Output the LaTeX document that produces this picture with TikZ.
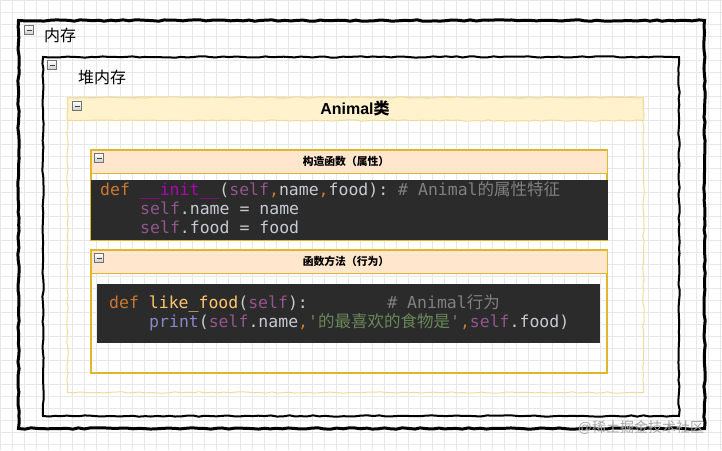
\documentclass[tikz,border=0pt]{standalone}
\usepackage{fontspec}
\setmainfont{Liberation Sans}
\setmonofont{DejaVu Sans Mono}
\newfontfamily\cjk{Noto Sans CJK SC}
\usetikzlibrary{decorations.pathmorphing}
\definecolor{gridc}{HTML}{E8E8E8}
\definecolor{hdrpale}{HTML}{FFF2CC}
\definecolor{hdrorange}{HTML}{FFE6CC}
\definecolor{boxgold}{HTML}{E0B62E}
\definecolor{palegold}{HTML}{F0DA9C}
\definecolor{codebg}{HTML}{2B2B2B}
\definecolor{codefg}{HTML}{C5CAD3}
\definecolor{kw}{HTML}{CC7832}
\definecolor{magic}{HTML}{B200B2}
\definecolor{slf}{HTML}{94558D}
\definecolor{cmt}{HTML}{808080}
\definecolor{str}{HTML}{6A8759}
\definecolor{fn}{HTML}{FFC66D}
\definecolor{bltin}{HTML}{8888C6}
\tikzset{box/.style={rectangle,anchor=north west,inner sep=0pt}}
\tikzset{sketch/.style={decorate,decoration={random steps,segment length=6pt,amplitude=0.7pt}}}
\tikzset{minus/.style={rectangle,draw=black!55,top color=white,bottom color=black!20,minimum size=9pt,inner sep=0pt,
  path picture={\draw[black!75,line width=0.8pt] ([xshift=2pt]path picture bounding box.west) -- ([xshift=-2pt]path picture bounding box.east);}}}
\tikzset{code/.style={anchor=base west,inner sep=0pt,text=codefg,font=\fontsize{16.5}{19}\selectfont\ttfamily}}
\tikzset{hdrtext/.style={inner sep=0pt,font=\fontsize{10.8}{12}\selectfont\cjk\bfseries}}

\begin{document}
\begin{tikzpicture}[x=1pt,y=-1pt]
\useasboundingbox (0,0) rectangle (722,450);
\draw[gridc,step=12pt] (0,0) grid (722,450);
% containers
\node[box,draw,sketch,line width=3pt,minimum width=686pt,minimum height=408pt] (mem) at (17,19) {};
\node[box,draw,sketch,line width=2pt,minimum width=636pt,minimum height=359pt] (heap) at (42,56) {};
\node[box,draw=palegold,sketch,line width=1pt,minimum width=576pt,minimum height=295pt] (animal) at (67,97) {};
\node[box,draw=palegold,fill=hdrpale,sketch,line width=1pt,minimum width=576pt,minimum height=23pt] (animalhdr) at (67,97) {};
\node[minus] (m1) at (29,30) {};
\node[minus] (m2) at (52,65) {};
\node[minus] (m3) at (77,106) {};
\node[anchor=west,inner sep=0pt,font=\fontsize{16}{18}\selectfont\cjk] (memlbl) at (44,35) {内存};
\node[anchor=west,inner sep=0pt,font=\fontsize{16}{18}\selectfont\cjk] (heaplbl) at (78,77) {堆内存};
\node[inner sep=0pt,font=\fontsize{16}{18}\selectfont\bfseries] (animallbl) at (355,108) {Animal{\cjk 类}};
% constructor
\draw[boxgold,line width=1.1pt] (91,150) rectangle (607,240);
\node[box,draw=boxgold,fill=hdrorange,line width=1.1pt,minimum width=516pt,minimum height=23pt] (ctorhdr) at (91,150) {};
\node[box,fill=codebg,minimum width=517pt,minimum height=60pt] (ctorcode) at (91,180) {};
\draw[boxgold,line width=1.1pt] (ctorcode.south west) -- (ctorcode.south east);
\node[minus] (m4) at (99,158) {};
\node[hdrtext] (ctorlbl) at (346,161) {构造函数（属性）};
\node[code] (c1) at (100,195) {\textcolor{kw}{def} \textcolor{magic}{\_\_init\_\_}(\textcolor{slf}{self}\textcolor{kw}{,}name\textcolor{kw}{,}food): \textcolor{cmt}{\# Animal{\cjk 的属性特征}}};
\node[code] (c2) at (140,214) {\textcolor{slf}{self}.name = name};
\node[code] (c3) at (140,233) {\textcolor{slf}{self}.food = food};
% method
\draw[boxgold,line width=1.1pt] (91,250) rectangle (607,373);
\node[box,draw=boxgold,fill=hdrorange,line width=1.1pt,minimum width=516pt,minimum height=23pt] (methodhdr) at (91,250) {};
\node[box,fill=codebg,minimum width=503pt,minimum height=59pt] (methodcode) at (97,284) {};
\node[minus] (m5) at (99,258) {};
\node[hdrtext] (methodlbl) at (346,261) {函数方法（行为）};
\node[code] (c4) at (109,308) {\textcolor{kw}{def} \textcolor{fn}{like\_food}(\textcolor{slf}{self}):\ \ \ \ \ \ \ \ \textcolor{cmt}{\# Animal{\cjk 行为}}};
\node[code] (c5) at (149,327) {\textcolor{bltin}{print}(\textcolor{slf}{self}.name\textcolor{kw}{,}\textcolor{str}{'{\cjk 的最喜欢的食物是}'}\textcolor{kw}{,}\textcolor{slf}{self}.food)};
% watermark
\node[inner sep=0pt,text=black!35,font=\fontsize{14}{16}\selectfont] (mark) at (641,428) {@{\cjk 稀土掘金技术社区}};
\end{tikzpicture}
\end{document}
